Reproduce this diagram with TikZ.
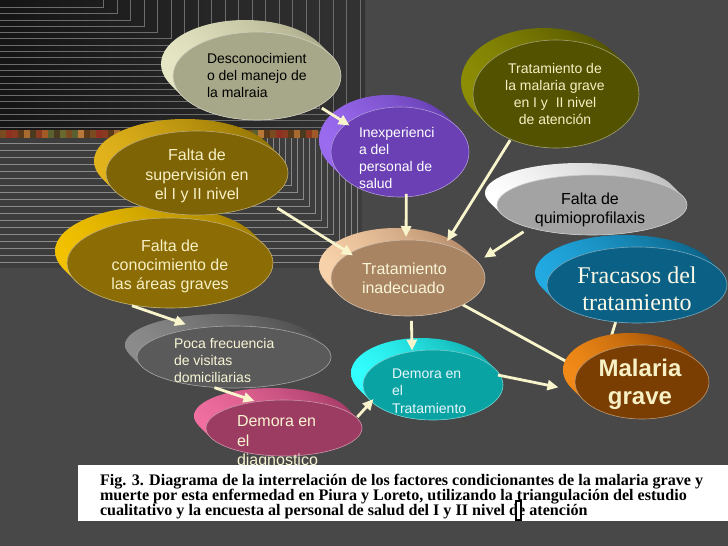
\documentclass[tikz,border=0pt]{standalone}
\usepackage{fontspec}
\setmainfont{Liberation Sans}
\newfontfamily\capfont{Liberation Serif}
\usetikzlibrary{shapes.geometric,arrows.meta}
\pgfdeclarelayer{bg}
\pgfdeclarelayer{under}
\pgfsetlayers{bg,under,main}
\definecolor{bgmain}{HTML}{484848}
\definecolor{lineU}{HTML}{6C6C6C}
\definecolor{lineL}{HTML}{8A8A8A}
\definecolor{descL}{HTML}{E6E6C4}\definecolor{descR}{HTML}{A8A888}\definecolor{descF}{HTML}{A7A789}
\definecolor{supL}{HTML}{E2B31C}\definecolor{supR}{HTML}{8E7000}\definecolor{supF}{HTML}{7F6406}
\definecolor{conL}{HTML}{F2C200}\definecolor{conR}{HTML}{9E7C00}\definecolor{conF}{HTML}{8C6D05}
\definecolor{pocaL}{HTML}{8C8C8C}\definecolor{pocaR}{HTML}{4A4A4A}\definecolor{pocaF}{HTML}{5A5A5A}
\definecolor{diagL}{HTML}{F06EA0}\definecolor{diagR}{HTML}{A53A66}\definecolor{diagF}{HTML}{9D3C62}
\definecolor{inexL}{HTML}{9B6BF0}\definecolor{inexR}{HTML}{5E38A8}\definecolor{inexF}{HTML}{6A40B4}
\definecolor{tmalL}{HTML}{8C8C05}\definecolor{tmalR}{HTML}{4A4A00}\definecolor{tmalF}{HTML}{525200}
\definecolor{quimL}{HTML}{FFFFFF}\definecolor{quimR}{HTML}{BDBDBD}\definecolor{quimF}{HTML}{A3A3A3}
\definecolor{fracL}{HTML}{22AAE2}\definecolor{fracR}{HTML}{0A5E80}\definecolor{fracF}{HTML}{0B6185}
\definecolor{tratL}{HTML}{F8D2AA}\definecolor{tratR}{HTML}{B08665}\definecolor{tratF}{HTML}{A88463}
\definecolor{dtrL}{HTML}{33FFFF}\definecolor{dtrR}{HTML}{0EA8A8}\definecolor{dtrF}{HTML}{0AA3A3}
\definecolor{malL}{HTML}{F28A18}\definecolor{malR}{HTML}{8A4200}\definecolor{malF}{HTML}{7A3E02}
\definecolor{cream}{HTML}{F6F0C4}
\definecolor{arrowc}{HTML}{F8F5CC}
\definecolor{s0}{HTML}{7A4A20}\definecolor{s1}{HTML}{A05A28}\definecolor{s2}{HTML}{5A3A18}
\definecolor{s3}{HTML}{6A6A30}\definecolor{s4}{HTML}{8A3A20}\definecolor{s5}{HTML}{B87838}
\definecolor{s6}{HTML}{4A3A20}\definecolor{s7}{HTML}{903020}\definecolor{s8}{HTML}{5A6030}
\definecolor{s9}{HTML}{A86A30}
\tikzset{
  face/.style={ellipse, inner sep=0pt, outer sep=0pt, line width=0.6pt},
  arr/.style={draw=arrowc, line width=2.8pt, -{Triangle[length=11pt,width=10pt]}},
  lbl/.style={inner sep=0pt, outer sep=0pt},
  fs14/.style={font=\fontsize{14}{17.3}\selectfont},
  fs16/.style={font=\fontsize{16}{19.2}\selectfont},
}
\newcommand\mydisc[8]{%
  \foreach \k in {0,1,...,6}{%
    \shade[left color=#6, right color=#7] ({#2-12+2*\k},{#3-12+2*\k}) ellipse [x radius=#4pt, y radius=#5pt];
  }%
  \node[face, fill=#8, draw=#8!55!white, minimum width={2*#4pt}, minimum height={2*#5pt}] (#1) at (#2,#3) {};
}
\begin{document}
\begin{tikzpicture}[x=1pt,y=-1pt]
\useasboundingbox (0,0) rectangle (728,546);
\begin{pgfonlayer}{bg}
  \fill[bgmain] (0,0) rectangle (728,546);
  \shade[left color=black!92, right color=black!80] (0,0) rectangle (365,130);
  \fill[black!76] (0,137) rectangle (362,268);
  \foreach \i in {0,...,19}{\draw[lineU, line width=0.7pt] (0,{127-6.3*\i}) -| ({360-13.5*\i},0);}
  \foreach \j in {0,...,17}{\draw[lineL, line width=0.6pt] (0,{143+7*\j}) -| ({255+6*\j},137);}
  \foreach \n in {0,...,52}{%
    \pgfmathtruncatemacro\m{mod(\n*7+\n/3,10)}%
    \fill[s\m] ({6*\n},130) rectangle ({min(6*\n+6,318)},137.5);
  }
\end{pgfonlayer}

% discs
\mydisc{diag}{284}{428}{78}{28}{diagL}{diagR}{diagF}
\mydisc{poca}{234}{357}{97}{31}{pocaL}{pocaR}{pocaF}
\mydisc{conoc}{170}{263}{103}{45}{conL}{conR}{conF}
\mydisc{sup}{197}{173}{91}{42}{supL}{supR}{supF}
\mydisc{desc}{257}{76}{84}{44}{descL}{descR}{descF}
\mydisc{trat}{408}{278}{77}{38}{tratL}{tratR}{tratF}
\mydisc{dtrat}{433}{385}{70}{35}{dtrL}{dtrR}{dtrF}
\mydisc{inex}{400}{152}{69}{45}{inexL}{inexR}{inexF}
\mydisc{tmal}{556}{94}{83}{54}{tmalL}{tmalR}{tmalF}
\mydisc{quim}{592}{205}{95}{30}{quimL}{quimR}{quimF}
\mydisc{frac}{637}{285}{90}{38}{fracL}{fracR}{fracF}
\mydisc{mal}{642}{382}{67}{37}{malL}{malR}{malF}

% lines hidden behind Malaria grave
\begin{pgfonlayer}{under}
  \draw[arr] (trat.-26) -- (mal.168);
  \draw[arr] (frac.-120) -- (mal.138);
\end{pgfonlayer}

% labels
\node[lbl, fs14, align=left, anchor=west, text=black] (desc-t) at (207,75.5) {Desconocimient\\o del manejo de\\la malraia};
\node[lbl, fs16, align=center, text=cream] (sup-t) at (197,176) {Falta de\\supervisión en\\el I y II nivel};
\node[lbl, fs16, align=center, text=cream] (conoc-t) at (170,266.5) {Falta de\\conocimiento de\\las áreas graves};
\node[lbl, font=\fontsize{14}{16.6}\selectfont, align=left, anchor=west, text=cream!70!white] (poca-t) at (174,360.5) {Poca frecuencia\\de visitas\\domiciliarias};
\node[lbl, font=\fontsize{16}{19.5}\selectfont, align=left, anchor=west, text=cream!80!white] (diag-t) at (237,442.5) {Demora en\\el\\diagnostico};
\node[lbl, fs14, align=left, anchor=west, text=white] (inex-t) at (359,158) {Inexperienci\\a del\\personal de\\salud};
\node[lbl, fs14, align=center, text=cream] (tmal-t) at (555,94) {Tratamiento de\\la malaria grave\\en I y\ \ II nivel\\de atención};
\node[lbl, fs16, align=center, text=black] (quim-t) at (590,209.5) {Falta de\\quimioprofilaxis};
\node[lbl, font=\capfont\fontsize{24}{27}\selectfont, align=center, text=cream!40!white] (frac-t) at (637,288.5) {Fracasos del\\tratamiento};
\node[lbl, fs16, align=left, anchor=west, text=cream!70!white] (trat-t) at (362,278.5) {Tratamiento\\inadecuado};
\node[lbl, fs14, align=left, anchor=west, text=white!90!cyan] (dtrat-t) at (392,391) {Demora en\\el\\Tratamiento};
\node[lbl, font=\bfseries\fontsize{24}{28}\selectfont, align=center, text=cream] (mal-t) at (640,384) {Malaria\\grave};

% arrows
\draw[arr, shorten <=4pt, shorten >=-3.6pt] (desc.-26) -- (inex.152);
\draw[arr, shorten <=14pt, shorten >=-4pt] (sup.-22) -- (trat.157);
\draw[arr, shorten <=-3pt, shorten >=3pt] (inex.-82) -- (trat.93);
\draw[arr, shorten <=1pt, shorten >=4pt] (tmal.-135) -- (trat.42);
\draw[arr, shorten <=7.5pt, shorten >=7.6pt] (quim.-160) -- (trat.13);
\draw[arr, shorten <=6pt, shorten >=12pt] (conoc.-137) -- (poca.142);
\draw[arr, shorten <=1pt, shorten >=2.5pt] (poca.-124) -- (diag.136);
\draw[arr, shorten <=1pt, shorten >=-3.4pt] (diag.8) -- (dtrat.-165);
\draw[arr, shorten <=5pt, shorten >=1pt] (trat.-85) -- (dtrat.122);
\draw[arr, shorten <=-2.5pt, shorten >=19pt] (dtrat.8) -- (mal.-172);

% caption
\node[fill=white, inner sep=0pt, outer sep=0pt, minimum width=650pt, minimum height=56pt, anchor=north west] (capbox) at (78,465) {};
\node[lbl, font=\capfont\bfseries\fontsize{16.1}{15.2}\selectfont, align=left, anchor=west, text=black] (cap-t) at (100,496.5)
  {Fig. 3. Diagrama de la interrelación de los factores condicionantes de la malaria grave y\\
   muerte por esta enfermedad en Piura y Loreto, utilizando la triangulación del estudio\\
   cualitativo y la encuesta al personal de salud del I y II nivel de atención};
\draw[black, line width=1.6pt, fill=white] (516,501) rectangle (521,520);
\end{tikzpicture}
\end{document}
